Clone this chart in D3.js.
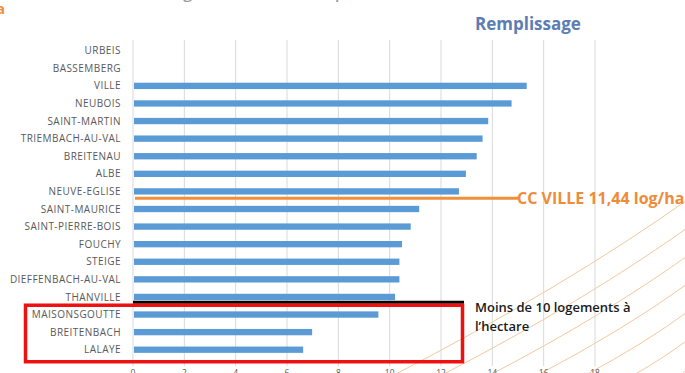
<!DOCTYPE html>
<html>
<head>
<meta charset="utf-8">
<script src="https://cdn.jsdelivr.net/npm/d3@7"></script>
<style>
  html, body { margin: 0; padding: 0; background: #ffffff; overflow: hidden; }
  svg { display: block; }
</style>
</head>
<body>
<svg id="chart" width="685" height="373"></svg>
<script>
// Communes, ordered from top to bottom
const communes = [
  "URBEIS", "BASSEMBERG", "VILLE", "NEUBOIS", "SAINT-MARTIN", "TRIEMBACH-AU-VAL",
  "BREITENAU", "ALBE", "NEUVE-EGLISE", "SAINT-MAURICE", "SAINT-PIERRE-BOIS",
  "FOUCHY", "STEIGE", "DIEFFENBACH-AU-VAL", "THANVILLE", "MAISONSGOUTTE",
  "BREITENBACH", "LALAYE"
];
// Logements à l'hectare (remplissage)
const remplissage = [
  0, 0, 15.34, 14.75, 13.84, 13.62,
  13.39, 12.97, 12.70, 11.15, 10.82,
  10.48, 10.38, 10.38, 10.21, 9.56,
  6.98, 6.63
];
const xTicks = [0, 2, 4, 6, 8, 10, 12, 14, 16, 18];
const moyenneCC = 11.44;
const seuil = 10;

const svg = d3.select("#chart");

const x = d3.scaleLinear().domain([0, 18]).range([133, 595]);
const y = d3.scaleBand().domain(communes).range([41.9, 358.5]).paddingInner(0.64).paddingOuter(0.32);

// decorative faint orange curves in the lower right
const deco = svg.append("g").attr("fill", "none").attr("stroke", "#f6c79c").attr("stroke-width", 1);
[0, 1, 2, 3, 4, 5, 6].forEach(i => {
  const x0 = 392 + i * 48, y0 = 376;
  const x1 = 690, y1 = 198 + i * 28;
  const cx = x0 + (x1 - x0) * 0.58, cy = y0 - (y0 - y1) * 0.50;
  const p = d3.path();
  p.moveTo(x0, y0);
  p.quadraticCurveTo(cx, cy, x1, y1);
  deco.append("path").attr("d", p.toString());
});

// vertical gridlines
svg.append("g").selectAll("line").data(xTicks.slice(1)).join("line")
  .attr("x1", d => x(d)).attr("x2", d => x(d))
  .attr("y1", 40).attr("y2", 366)
  .attr("stroke", "#d9d9d9").attr("stroke-width", 1);

// category axis line
svg.append("line").attr("x1", x(0)).attr("x2", x(0)).attr("y1", 40).attr("y2", 366)
  .attr("stroke", "#d9d9d9").attr("stroke-width", 1);

// bars
svg.append("g").selectAll("rect").data(communes).join("rect")
  .attr("x", x(0) + 1)
  .attr("y", d => y(d))
  .attr("height", y.bandwidth())
  .attr("width", (d, i) => Math.max(0, x(remplissage[i]) - x(0) - 1))
  .attr("fill", "#5b9bd5");

// category labels
svg.append("g").selectAll("text").data(communes).join("text")
  .attr("x", 121)
  .attr("y", d => y(d) + y.bandwidth() / 2)
  .attr("dy", "0.36em")
  .attr("text-anchor", "end")
  .attr("font-family", "'Open Sans', sans-serif")
  .attr("font-size", 10)
  .attr("letter-spacing", 0.45)
  .attr("fill", "#595959")
  .text(d => d);

// value axis labels
svg.append("g").selectAll("text").data(xTicks).join("text")
  .attr("x", d => x(d))
  .attr("y", 376)
  .attr("text-anchor", "middle")
  .attr("font-family", "'Open Sans', sans-serif")
  .attr("font-size", 8.5)
  .attr("fill", "#595959")
  .text(d => d);

// CC average line, drawn between the communes above and below it
const idxBelow = remplissage.findIndex(v => v > 0 && v < moyenneCC);
const above = communes[idxBelow - 1];
const below = communes[idxBelow];
const yMoy = (y(above) + y(below)) / 2 + y.bandwidth() / 2 - 2;
svg.append("line").attr("x1", x(0) + 2).attr("x2", 518).attr("y1", yMoy).attr("y2", yMoy)
  .attr("stroke", "#f0903a").attr("stroke-width", 3);
svg.append("text").attr("x", 517).attr("y", yMoy + 6)
  .attr("font-family", "'Open Sans', sans-serif").attr("font-weight", 700)
  .attr("font-size", 16).attr("fill", "#ef8c3a")
  .text("CC VILLE " + d3.format(".2f")(moyenneCC).replace(".", ",") + " log/ha");

// threshold separator and highlight box for communes under 10 log/ha
const firstUnder = communes[remplissage.findIndex(v => v > 0 && v < seuil)];
const ySep = y(firstUnder) - (y.step() - y.bandwidth()) / 2 - 3.5;
svg.append("line").attr("x1", x(0)).attr("x2", 464).attr("y1", ySep).attr("y2", ySep)
  .attr("stroke", "#000000").attr("stroke-width", 3);
svg.append("rect").attr("x", 25.5).attr("y", ySep + 3).attr("width", 437).attr("height", 56.5)
  .attr("fill", "none").attr("stroke", "#ee1111").attr("stroke-width", 3.5);

const note = svg.append("text").attr("font-family", "'Open Sans', sans-serif")
  .attr("font-weight", 600).attr("font-size", 13).attr("fill", "#1a1a1a");
note.append("tspan").attr("x", 475).attr("y", 312).text("Moins de " + seuil + " logements à");
note.append("tspan").attr("x", 475).attr("y", 331).text("l’hectare");

// heading
svg.append("text").attr("x", 475).attr("y", 30)
  .attr("font-family", "'Open Sans', sans-serif").attr("font-weight", 700)
  .attr("font-size", 17).attr("fill", "#5b7db3")
  .text("Remplissage");

// partially visible page title above the chart
svg.append("text").attr("x", 85).attr("y", -1)
  .attr("font-family", "'Open Sans', sans-serif").attr("font-weight", 600)
  .attr("font-size", 15).attr("fill", "#9a9a9a")
  .attr("textLength", 420).attr("lengthAdjust", "spacingAndGlyphs")
  .text("Densité de logements à l’hectare par commune de la CC");
svg.append("text").attr("x", -4).attr("y", 14)
  .attr("font-family", "'Open Sans', sans-serif").attr("font-weight", 700)
  .attr("font-size", 15).attr("fill", "#ef8c3a")
  .text("a");
</script>
</body>
</html>
